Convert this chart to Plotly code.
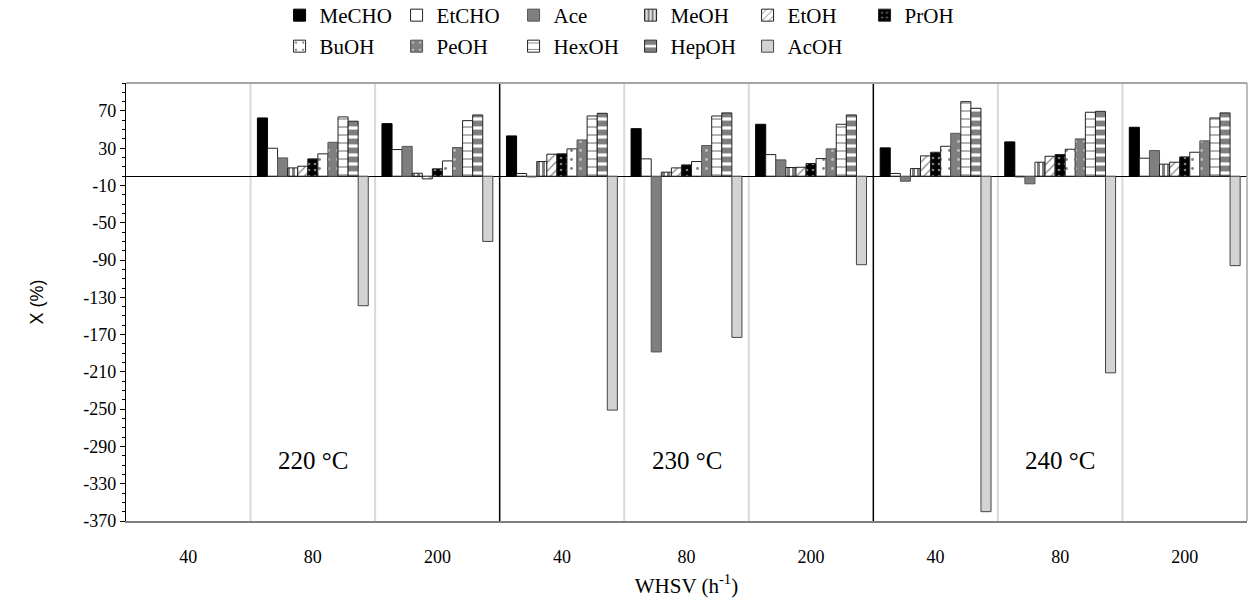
import plotly.graph_objects as go

# WHSV levels (h-1) repeated for each reaction temperature
temperatures = ["220 °C", "230 °C", "240 °C"]
whsv_labels = ["40", "80", "200"]
categories = [f"{t}|{w}" for t in temperatures for w in whsv_labels]

# Y axis tick values, X (%)
y_ticks = [-370, -330, -290, -250, -210, -170, -130, -90, -50, -10, 30, 70]

# Conversion X (%) per compound, one value per (temperature, WHSV) pair
MeCHO = [None, 62.5, 56.4, 43.2, 51.0, 55.7, 30.4, 36.8, 52.5]
EtCHO = [None, 30.0, 28.6, 2.9, 18.6, 23.2, 2.9, -0.7, 19.3]
Ace = [None, 19.6, 32.0, -0.8, -188.6, 17.5, -5.4, -8.2, 27.5]
MeOH = [None, 8.9, 3.2, 15.7, 4.3, 9.3, 8.2, 15.0, 12.9]
EtOH = [None, 10.7, -2.9, 23.6, 8.9, 9.6, 21.8, 21.4, 15.0]
PrOH = [None, 18.6, 7.9, 24.0, 12.1, 13.6, 25.7, 23.2, 20.7]
BuOH = [None, 24.0, 16.4, 29.3, 15.7, 18.9, 32.1, 28.9, 25.7]
PeOH = [None, 36.4, 30.7, 38.9, 32.9, 29.3, 46.0, 40.0, 37.9]
HexOH = [None, 63.6, 59.6, 64.6, 64.6, 55.7, 80.0, 68.6, 62.5]
HepOH = [None, 59.0, 65.7, 67.5, 67.9, 65.7, 72.9, 69.6, 67.9]
AcOH = [None, -139.0, -70.0, -251.0, -173.0, -95.0, -360.0, -211.0, -96.0]

SERIF = "Liberation Serif"
SANS = "Liberation Sans"

# (name, values, marker style, legend row)
series = [
    ("MeCHO", MeCHO, dict(color="black", line=dict(color="black", width=1)), "legend"),
    ("EtCHO", EtCHO, dict(color="white", line=dict(color="#222", width=1)), "legend"),
    ("Ace", Ace, dict(color="#7f7f7f", line=dict(color="#555", width=1)), "legend"),
    ("MeOH", MeOH, dict(color="white", line=dict(color="#222", width=1),
                        pattern=dict(shape="|", fgcolor="black", size=5, solidity=0.6)), "legend"),
    ("EtOH", EtOH, dict(color="white", line=dict(color="#222", width=1),
                        pattern=dict(shape="/", fgcolor="black", size=6, solidity=0.2)), "legend"),
    ("PrOH", PrOH, dict(color="black", line=dict(color="#222", width=1),
                        pattern=dict(shape=".", fgcolor="white", bgcolor="black", size=6, solidity=0.15)), "legend"),
    ("BuOH", BuOH, dict(color="white", line=dict(color="#222", width=1),
                        pattern=dict(shape=".", fgcolor="black", size=9, solidity=0.08)), "legend2"),
    ("PeOH", PeOH, dict(color="#7f7f7f", line=dict(color="#555", width=1),
                        pattern=dict(shape=".", fgcolor="white", bgcolor="#7f7f7f", size=9, solidity=0.08)), "legend2"),
    ("HexOH", HexOH, dict(color="white", line=dict(color="#222", width=1),
                          pattern=dict(shape="-", fgcolor="black", size=8, solidity=0.15)), "legend2"),
    ("HepOH", HepOH, dict(color="white", line=dict(color="#222", width=1),
                          pattern=dict(shape="-", fgcolor="black", size=9, solidity=0.65)), "legend2"),
    ("AcOH", AcOH, dict(color="#d3d3d3", line=dict(color="#444", width=1)), "legend2"),
]

xpos = list(range(len(categories)))

fig = go.Figure()
for name, vals, marker, leg in series:
    fig.add_trace(go.Bar(name=name, x=xpos, y=vals, marker=marker, legend=leg))

# Category separators: light grey within a temperature, black between temperatures
shapes = []
n_w = len(whsv_labels)
for k in range(1, len(categories)):
    is_temp_break = k % n_w == 0
    shapes.append(dict(
        type="line", xref="x", yref="paper", x0=k - 0.5, x1=k - 0.5, y0=0, y1=1,
        line=dict(color="black" if is_temp_break else "#d9d9d9",
                  width=1.5 if is_temp_break else 2),
        layer="below",
    ))
# Plot frame (top and right)
shapes.append(dict(type="line", xref="paper", yref="paper", x0=0, x1=1, y0=1, y1=1,
                   line=dict(color="#a6a6a6", width=2)))
shapes.append(dict(type="line", xref="paper", yref="paper", x0=1, x1=1, y0=0, y1=1,
                   line=dict(color="#a6a6a6", width=1.5)))

# Temperature labels centred on the middle WHSV of each block
annotations = []
for i, t in enumerate(temperatures):
    annotations.append(dict(
        x=i * n_w + (n_w - 1) / 2, y=-305, xref="x", yref="y", text=t,
        showarrow=False, font=dict(family=SERIF, size=25, color="black"),
    ))

legend_style = dict(
    orientation="h", x=0.137, xanchor="left", yanchor="top",
    font=dict(family=SERIF, size=21, color="black"),
    entrywidth=72, entrywidthmode="pixels",
    itemwidth=30, traceorder="normal", bgcolor="rgba(0,0,0,0)",
)

fig.update_layout(
    width=1256, height=607, autosize=False,
    margin=dict(l=126, r=9, t=83, b=86, autoexpand=False),
    paper_bgcolor="white", plot_bgcolor="white",
    barmode="group", bargap=0.11, bargroupgap=0.0,
    shapes=shapes, annotations=annotations,
    legend=dict(legend_style, y=1.2009),
    legend2=dict(legend_style, y=1.1301),
    xaxis=dict(
        range=[-0.5, len(categories) - 0.5],
        tickmode="array", tickvals=xpos, ticktext=whsv_labels * len(temperatures),
        ticks="", showline=True, linecolor="#7f7f7f", linewidth=1.5,
        showgrid=False, zeroline=False,
        tickfont=dict(family=SERIF, size=18, color="black"),
        ticklabelstandoff=19,
        title=dict(text="WHSV (h<sup>-1</sup>)", standoff=12,
                   font=dict(family=SERIF, size=21, color="black")),
    ),
    yaxis=dict(
        range=[-370, 100],
        tickmode="array", tickvals=y_ticks, ticktext=[str(v) for v in y_ticks],
        ticks="outside", ticklen=5, tickcolor="black", tickwidth=1,
        minor=dict(ticks="outside", tick0=-370, dtick=10, ticklen=3,
                   tickcolor="black", tickwidth=1, showgrid=False),
        showline=True, linecolor="black", linewidth=1.2,
        showgrid=False, zeroline=True, zerolinecolor="black", zerolinewidth=1.3,
        tickfont=dict(family=SERIF, size=18, color="black"),
        title=dict(text="X (%)", standoff=34,
                   font=dict(family=SANS, size=18, color="black")),
    ),
)

fig.write_html("out.html")
